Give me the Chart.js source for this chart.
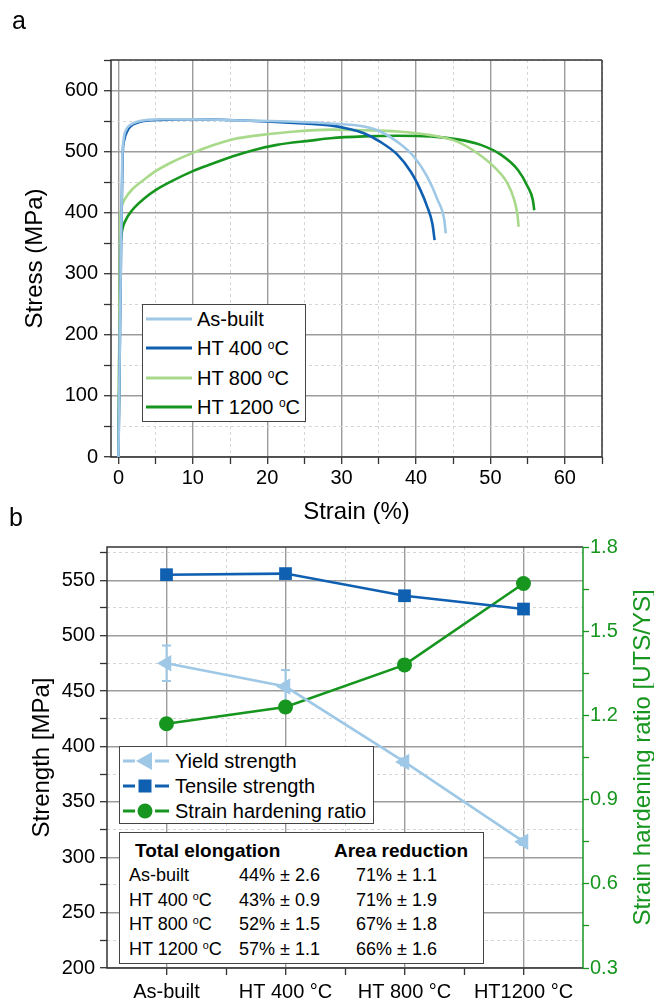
<!DOCTYPE html>
<html>
<head>
<meta charset="utf-8">
<script src="https://cdn.jsdelivr.net/npm/chart.js@4.4.1/dist/chart.umd.min.js"></script>
<style>
  body { margin: 0; background: #fff; font-family: "Liberation Sans", Arial, sans-serif; color: #000; }
  #wrap { position: relative; width: 654px; height: 1002px; overflow: hidden; }
  canvas { position: absolute; left: 0; }
  #chartA { top: 0; }
  #chartB { top: 530px; }
  .tag { position: absolute; font-size: 25px; line-height: 1; }
  .box { position: absolute; background: #fff; border: 1px solid #444; box-sizing: border-box; }
  .row { position: absolute; white-space: nowrap; line-height: 1; transform: translateY(-50%); }
  .row svg { position: absolute; top: 50%; transform: translateY(-50%); }
  sup { font-size: 0.6em; vertical-align: 0; position: relative; top: -0.55em; }
</style>
</head>
<body>
<div id="wrap">
  <canvas id="chartA" width="654" height="530"></canvas>
  <canvas id="chartB" width="654" height="472"></canvas>
  <div class="tag" style="left:12px; top:8px;">a</div>
  <div class="tag" style="left:9px; top:505px;">b</div>
  <div class="box" id="legendA" style="left:142px; top:304px; width:164px; height:118px;"></div>
  <div class="box" id="legendB" style="left:119px; top:746px; width:255px; height:78px;"></div>
  <div class="box" id="table" style="left:119px; top:832px; width:365px; height:132px;"></div>
</div>
<script>
// Panel a: tensile curves (strain %, stress MPa)
const asBuiltStrain = [0, 0.3, 0.5, 0.7, 1.0, 1.5, 2.5, 4, 6, 10, 16.8, 23.6, 28.5, 33.0, 35.2, 37.5, 39.7, 41.5, 42.9, 43.8, 44.0];
const asBuiltStress = [0, 300, 480, 520, 535, 543, 549, 552, 553, 553, 551, 549, 546, 541, 533, 516, 492, 459, 421, 388, 366];
const ht400Strain = [0, 0.35, 0.55, 0.8, 1.2, 1.6, 2.5, 3.4, 5.6, 10, 16.8, 23.6, 28.5, 30.7, 33.0, 35.2, 37.5, 39.3, 40.6, 41.5, 42.2, 42.5];
const ht400Stress = [0, 340, 490, 520, 534, 541, 547, 550, 552, 553, 551, 547, 543, 538, 530, 516, 495, 467, 437, 410, 382, 355];
const ht800Strain = [0, 0.25, 0.35, 0.49, 0.94, 1.84, 3.64, 5.0, 7.23, 10, 12.6, 15.3, 19, 23, 28.5, 33.0, 37.5, 42.0, 45.6, 48.3, 50.5, 52.3, 53.2, 53.6, 53.8];
const ht800Stress = [0, 390, 404, 412, 424, 438, 456, 468, 483, 498, 510, 520, 527, 532, 536, 535, 533, 527, 516, 497, 475, 448, 421, 399, 377];
const ht1200Strain = [0, 0.25, 0.35, 0.49, 0.94, 1.84, 3.64, 5.0, 7.23, 10, 12.6, 15.3, 18, 21.3, 25.8, 28.5, 33.0, 37.5, 42.0, 45.6, 48.7, 51.4, 53.7, 55.0, 55.7, 55.9];
const ht1200Stress = [0, 340, 357, 371, 387, 404, 425, 437, 452, 468, 480, 492, 502, 511, 518, 522, 525, 526, 525, 520, 511, 495, 470, 443, 421, 404];

const strainTicks = [0, 10, 20, 30, 40, 50, 60];
const strainMinor = [5, 15, 25, 35, 45, 55, 65];
const stressTicks = [0, 100, 200, 300, 400, 500, 600];
const stressMinor = [50, 150, 250, 350, 450, 550, 650];

// Panel b: strength per condition
const conditions = ['As-built', 'HT 400 °C', 'HT 800 °C', 'HT1200 °C'];
const yieldStrength = [475, 454, 386, 314];
const yieldError = [16, 15, 3, 3];
const tensileStrength = [555, 556, 536, 524];
const hardeningRatio = [1.17, 1.23, 1.38, 1.67];

const strengthTicks = [200, 250, 300, 350, 400, 450, 500, 550];
const strengthMinor = [225, 275, 325, 375, 425, 475, 525, 575];
const ratioTicks = [0.3, 0.6, 0.9, 1.2, 1.5, 1.8];
const ratioMinor = [0.45, 0.75, 1.05, 1.35, 1.65];
const conditionTicks = [0, 1, 2, 3];
const conditionMinor = [0.5, 1.5, 2.5];

// Inset table
const tableConditions = ['As-built', 'HT 400 <sup>o</sup>C', 'HT 800 <sup>o</sup>C', 'HT 1200 <sup>o</sup>C'];
const elongationMean = [44, 43, 52, 57];
const elongationSd = [2.6, 0.9, 1.5, 1.1];
const areaMean = [71, 71, 67, 66];
const areaSd = [1.1, 1.9, 1.8, 1.6];

const lightBlue = '#9ec8e6';
const darkBlue = '#1060b2';
const lightGreen = '#a9d98b';
const darkGreen = '#17961f';
const majorGrid = '#9c9c9c';
const minorGrid = '#d6d6d6';
const frameColor = '#333';

Chart.defaults.font.family = '"Liberation Sans", Arial, sans-serif';
Chart.defaults.color = '#000';

function pairs(xs, ys) {
    return xs.map((x, i) => ({ x: x, y: ys[i] }));
}

function setTicks(major, minor) {
    return scale => {
        scale.ticks = major.concat(minor).sort((a, b) => a - b).map(v => ({ value: v }));
    };
}

function gridFor(major, color) {
    const isMajor = ctx => ctx.tick && major.includes(ctx.tick.value);
    return {
        grid: {
            color: ctx => isMajor(ctx) ? majorGrid : minorGrid,
            lineWidth: ctx => isMajor(ctx) ? 1.4 : 1,
            tickColor: color || frameColor,
            tickLength: 7,
            tickWidth: 1.3
        },
        border: { display: false, dash: ctx => (ctx.tick && !isMajor(ctx)) ? [3, 3] : [] }
    };
}

const frame = {
    id: 'frame',
    beforeDatasetsDraw(chart, args, opts) {
        const a = chart.chartArea;
        const ctx = chart.ctx;
        ctx.save();
        ctx.lineWidth = 1.5;
        ctx.strokeStyle = frameColor;
        ctx.beginPath();
        ctx.moveTo(a.right, a.top);
        ctx.lineTo(a.left, a.top);
        ctx.lineTo(a.left, a.bottom);
        ctx.lineTo(a.right, a.bottom);
        if (!opts.rightColor) ctx.lineTo(a.right, a.top);
        ctx.stroke();
        if (opts.rightColor) {
            ctx.strokeStyle = opts.rightColor;
            ctx.beginPath();
            ctx.moveTo(a.right, a.top);
            ctx.lineTo(a.right, a.bottom);
            ctx.stroke();
        }
        ctx.restore();
    }
};

// ---------- panel a ----------
const seriesA = [
    { label: 'As-built', color: lightBlue, data: pairs(asBuiltStrain, asBuiltStress) },
    { label: 'HT 400 <sup>o</sup>C', color: darkBlue, data: pairs(ht400Strain, ht400Stress) },
    { label: 'HT 800 <sup>o</sup>C', color: lightGreen, data: pairs(ht800Strain, ht800Stress) },
    { label: 'HT 1200 <sup>o</sup>C', color: darkGreen, data: pairs(ht1200Strain, ht1200Stress) }
];

new Chart(document.getElementById('chartA'), {
    type: 'line',
    data: {
        datasets: seriesA.map(s => ({
            label: s.label,
            data: s.data,
            borderColor: s.color,
            borderWidth: 2.6,
            pointRadius: 0,
            cubicInterpolationMode: 'monotone',
            fill: false
        }))
    },
    options: {
        responsive: false,
        animation: false,
        devicePixelRatio: 1,
        layout: { padding: { top: 60, right: 52, left: 0, bottom: 0 } },
        plugins: { legend: { display: false }, tooltip: { enabled: false } },
        scales: {
            x: Object.assign({
                type: 'linear', min: -1, max: 65,
                afterBuildTicks: setTicks(strainTicks, strainMinor),
                afterFit: s => { s.height = 73; },
                ticks: {
                    autoSkip: false, maxRotation: 0, padding: 2, font: { size: 20 },
                    callback: v => strainTicks.includes(v) ? String(v) : ''
                },
                title: { display: true, text: 'Strain (%)', font: { size: 24, lineHeight: 1 }, padding: { top: 0, bottom: 6 } }
            }, gridFor(strainTicks)),
            y: Object.assign({
                type: 'linear', min: 0, max: 650,
                afterBuildTicks: setTicks(stressTicks, stressMinor),
                afterFit: s => { s.width = 111; },
                ticks: {
                    autoSkip: false, padding: 6, font: { size: 20 },
                    callback: v => stressTicks.includes(v) ? String(v) : ''
                },
                title: { display: true, text: 'Stress (MPa)', font: { size: 24, lineHeight: 1 }, padding: { top: 23, bottom: 0 } }
            }, gridFor(stressTicks))
        }
    },
    plugins: [frame]
});

// ---------- panel b ----------
const ratioTitle = 'Strain hardening ratio [UTS/YS]';

const errorBars = {
    id: 'errorBars',
    beforeDatasetsDraw(chart) {
        const xs = chart.scales.x;
        const ys = chart.scales.y;
        const ctx = chart.ctx;
        ctx.save();
        ctx.strokeStyle = lightBlue;
        ctx.lineWidth = 2;
        yieldStrength.forEach((v, i) => {
            const x = xs.getPixelForValue(i);
            const top = ys.getPixelForValue(v + yieldError[i]);
            const bot = ys.getPixelForValue(v - yieldError[i]);
            ctx.beginPath();
            ctx.moveTo(x, top); ctx.lineTo(x, bot);
            ctx.moveTo(x - 4.5, top); ctx.lineTo(x + 4.5, top);
            ctx.moveTo(x - 4.5, bot); ctx.lineTo(x + 4.5, bot);
            ctx.stroke();
        });
        ctx.restore();
    }
};

const rightTitle = {
    id: 'rightTitle',
    afterDraw(chart) {
        const a = chart.chartArea;
        const ctx = chart.ctx;
        ctx.save();
        ctx.translate(chart.width - 11, (a.top + a.bottom) / 2);
        ctx.rotate(-Math.PI / 2);
        ctx.font = '24px "Liberation Sans", Arial, sans-serif';
        ctx.fillStyle = darkGreen;
        ctx.textAlign = 'center';
        ctx.textBaseline = 'middle';
        ctx.fillText(ratioTitle, 0, 0);
        ctx.restore();
    }
};

const seriesB = [
    { label: 'Yield strength', color: lightBlue, values: yieldStrength, axis: 'y', style: 'triangle', rotation: 270, radius: 9.5 },
    { label: 'Tensile strength', color: darkBlue, values: tensileStrength, axis: 'y', style: 'rect', rotation: 0, radius: 9 },
    { label: 'Strain hardening ratio', color: darkGreen, values: hardeningRatio, axis: 'y1', style: 'circle', rotation: 0, radius: 7.5 }
];

new Chart(document.getElementById('chartB'), {
    type: 'line',
    data: {
        datasets: seriesB.map(s => ({
            label: s.label,
            data: s.values.map((v, i) => ({ x: i, y: v })),
            yAxisID: s.axis,
            borderColor: s.color,
            backgroundColor: s.color,
            borderWidth: 2.6,
            pointStyle: s.style,
            pointRotation: s.rotation,
            pointRadius: s.radius,
            pointBorderWidth: 0,
            fill: false
        }))
    },
    options: {
        responsive: false,
        animation: false,
        devicePixelRatio: 1,
        layout: { padding: { top: 17, right: 0, left: 0, bottom: 0 } },
        plugins: { legend: { display: false }, tooltip: { enabled: false }, frame: { rightColor: darkGreen } },
        scales: {
            x: Object.assign({
                type: 'linear', min: -0.5, max: 3.5,
                afterBuildTicks: setTicks(conditionTicks, conditionMinor),
                afterFit: s => { s.height = 34; },
                ticks: {
                    autoSkip: false, maxRotation: 0, padding: 5, font: { size: 20 },
                    callback: v => conditionTicks.includes(v) ? conditions[v] : ''
                }
            }, gridFor(conditionTicks)),
            y: Object.assign({
                type: 'linear', position: 'left', min: 200, max: 580,
                afterBuildTicks: setTicks(strengthTicks, strengthMinor),
                afterFit: s => { s.width = 107; },
                ticks: {
                    autoSkip: false, padding: 5, font: { size: 20 },
                    callback: v => strengthTicks.includes(v) ? String(v) : ''
                },
                title: { display: true, text: 'Strength [MPa]', font: { size: 24, lineHeight: 1 }, padding: { top: 30, bottom: 0 } }
            }, gridFor(strengthTicks)),
            y1: {
                type: 'linear', position: 'right', min: 0.3, max: 1.8,
                afterBuildTicks: setTicks(ratioTicks, ratioMinor),
                afterFit: s => { s.width = 71; },
                ticks: {
                    autoSkip: false, padding: 1, font: { size: 20 }, color: darkGreen,
                    callback: v => ratioTicks.includes(v) ? v.toFixed(1) : ''
                },
                grid: { drawOnChartArea: false, tickColor: darkGreen, tickLength: 6, tickWidth: 1.3 },
                border: { display: false }
            }
        }
    },
    plugins: [frame, errorBars, rightTitle]
});

// ---------- legends (HTML) ----------
const legendA = document.getElementById('legendA');
seriesA.forEach((s, i) => {
    const row = document.createElement('div');
    row.className = 'row';
    row.style.top = (14 + i * 29.3) + 'px';
    row.style.left = '2px';
    row.style.fontSize = '20px';
    row.innerHTML = `<svg width="48" height="6" style="left:0"><line x1="1" y1="3" x2="47" y2="3" stroke="${s.color}" stroke-width="3"/></svg>
        <span style="padding-left:52px">${s.label}</span>`;
    legendA.appendChild(row);
});

function markerSvg(s) {
    let m = '';
    if (s.style === 'triangle') m = `<polygon points="14,9 30,0 30,18" fill="${s.color}"/>`;
    if (s.style === 'rect') m = `<rect x="16.5" y="2.5" width="13" height="13" fill="${s.color}"/>`;
    if (s.style === 'circle') m = `<circle cx="23" cy="9" r="7.5" fill="${s.color}"/>`;
    return `<svg width="48" height="18" style="left:0">
        <line x1="1" y1="9" x2="13" y2="9" stroke="${s.color}" stroke-width="3"/>
        <line x1="33" y1="9" x2="47" y2="9" stroke="${s.color}" stroke-width="3"/>${m}</svg>`;
}

const legendB = document.getElementById('legendB');
seriesB.forEach((s, i) => {
    const row = document.createElement('div');
    row.className = 'row';
    row.style.top = (14 + i * 25) + 'px';
    row.style.left = '2px';
    row.style.fontSize = '20px';
    row.innerHTML = markerSvg(s) + `<span style="padding-left:53px">${s.label}</span>`;
    legendB.appendChild(row);
});

// ---------- inset table ----------
const table = document.getElementById('table');
function cell(text, left, top, size, bold) {
    const d = document.createElement('div');
    d.className = 'row';
    d.style.left = left + 'px';
    d.style.top = top + 'px';
    d.style.fontSize = size + 'px';
    if (bold) d.style.fontWeight = 'bold';
    d.innerHTML = text;
    table.appendChild(d);
}
cell('Total elongation', 15, 17, 19, true);
cell('Area reduction', 214, 17, 19, true);
tableConditions.forEach((c, i) => {
    const top = 42 + i * 24.7;
    cell(c, 9, top, 18);
    cell(`${elongationMean[i]}% ± ${elongationSd[i].toFixed(1)}`, 119, top, 18);
    cell(`${areaMean[i]}% ± ${areaSd[i].toFixed(1)}`, 236, top, 18);
});
</script>
</body>
</html>
